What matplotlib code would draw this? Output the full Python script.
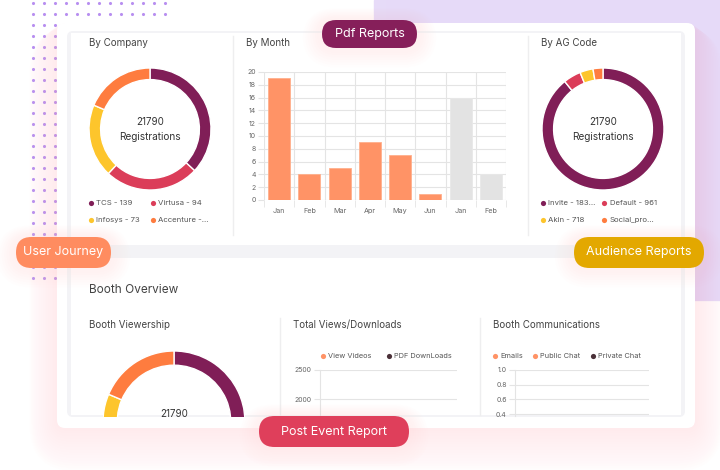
import matplotlib
matplotlib.use("Agg")
import matplotlib.pyplot as plt
import numpy as np
from matplotlib.patches import FancyBboxPatch, Rectangle

plt.rcParams['font.family'] = ['Inter', 'DejaVu Sans']

# ---------------- data ----------------
company_labels = ["TCS - 139", "Virtusa - 94", "Infosys - 73", "Accenture -..."]
company_values = [139, 94, 73, 70]

month_labels = ["Jan", "Feb", "Mar", "Apr", "May", "Jun", "Jan", "Feb"]
month_values = [19, 4, 5, 9, 7, 1, 16, 4]
month_is_past = [False, False, False, False, False, False, True, True]

ag_labels = ["Invite - 183...", "Default - 961", "Akin - 718", "Social_pro..."]
ag_values = [18350, 961, 718, 540]

viewer_values = [139, 94, 73, 70]

views_legend = ["View Videos", "PDF DownLoads"]
views_ticks = [2000, 2500]
comm_legend = ["Emails", "Public Chat", "Private Chat"]
comm_ticks = [0.4, 0.6, 0.8, 1.0]

center_total = "21790"
center_label = "Registrations"

buttons = ["Pdf Reports", "User Journey", "Audience Reports", "Post Event Report"]

# ---------------- style ----------------
PURPLE = "#801e57"
RED = "#db3d59"
YELLOW = "#fdc52c"
ORANGE = "#fe7c3f"
donut_colors = [PURPLE, RED, YELLOW, ORANGE]
BAR = "#ff9366"
BAR_PAST = "#e3e3e3"
TXT = "#444444"
GRID = "#e4e4e4"

W, H = 720, 470
fig = plt.figure(figsize=(7.2, 4.7), dpi=100)
fig.patch.set_facecolor("white")


def px_axes(x0, y0, w, h, z=1):
    ax = fig.add_axes([x0 / W, 1 - (y0 + h) / H, w / W, h / H])
    ax.set_zorder(z)
    return ax


# background layer
bg = px_axes(0, 0, W, H, z=0)
bg.set_xlim(0, W)
bg.set_ylim(H, 0)
bg.axis("off")

# lavender block (with soft gradient)
bg.add_patch(Rectangle((374, 0), 346, 300, color="#e6daf8", zorder=0))
for i in range(12):
    bg.add_patch(Rectangle((374 + i * 2, 0), 2, 300, color="white", alpha=0.05 * (12 - i) / 12, lw=0, zorder=0.1))

# dot grid
dx = np.arange(33, 166, 11)
dy = np.arange(3, 280, 11)
gx, gy = np.meshgrid(dx, dy)
bg.scatter(gx.ravel(), gy.ravel(), s=5, color="#b88ff0", lw=0, zorder=1)

# card glow (subtle)
for i in range(16):
    pad = 2 + i * 2.5
    bg.add_patch(FancyBboxPatch((57 - pad * 0.7, 23 + pad * 0.1), 638 + pad * 1.4, 405 + pad * 1.0,
                                boxstyle="round,pad=0,rounding_size=%f" % (8 + pad),
                                fc="#ffc4c8", ec="none", alpha=0.018, zorder=2))
# card
bg.add_patch(FancyBboxPatch((57, 23), 638, 405, boxstyle="round,pad=0,rounding_size=8",
                            fc="white", ec="none", zorder=3))
# inner frame
bg.add_patch(FancyBboxPatch((67, 31), 618, 386, boxstyle="round,pad=0,rounding_size=6",
                            fc="#f3f3f6", ec="none", zorder=3.1))
bg.add_patch(Rectangle((71, 33), 610, 212, fc="white", ec="none", zorder=3.2))
bg.add_patch(Rectangle((71, 258), 610, 157, fc="white", ec="none", zorder=3.2))

# dividers
for xv, y0, y1 in [(233, 36, 235), (528, 36, 235), (280, 318, 415), (480, 318, 415)]:
    bg.plot([xv, xv], [y0, y1], color="#eeeeef", lw=1, zorder=3.3)

# titles
for (tx, ty, s, fs) in [(89, 43, "By Company", 7), (246, 43, "By Month", 7), (541, 43, "By AG Code", 7),
                         (89, 290, "Booth Overview", 8.5), (89, 325, "Booth Viewership", 7),
                         (293, 325, "Total Views/Downloads", 7), (493, 325, "Booth Communications", 7)]:
    bg.text(tx, ty, s, fontsize=fs, color=TXT, va="center", ha="left", zorder=4)


def legend_items(ax_, items, colors, xs, ys, fs=5.6):
    for lab, col, x, y in zip(items, colors, xs, ys):
        ax_.scatter([x], [y], s=14, color=col, lw=0, zorder=5)
        ax_.text(x + 5.5, y, lab, fontsize=fs, color="#555555", va="center", ha="left", zorder=5)


legend_items(bg, company_labels, donut_colors, [91, 153, 91, 153], [203, 203, 220, 220])
legend_items(bg, ag_labels, donut_colors, [543, 604, 543, 604], [203, 203, 220, 220])
legend_items(bg, views_legend, [BAR, "#4a3038"], [323, 389], [356, 356], fs=5.3)
legend_items(bg, comm_legend, [BAR, BAR, "#4a3038"], [495, 535, 593], [356, 356, 356], fs=5.3)


# ---------------- donuts ----------------
def donut(cx, cy, r, values, width):
    ax = px_axes(cx - r, cy - r, 2 * r, 2 * r, z=2)
    ax.pie(values, colors=donut_colors, startangle=90, counterclock=False, radius=1,
           wedgeprops=dict(width=width, edgecolor="white", linewidth=1.0))
    ax.set_xlim(-1, 1)
    ax.set_ylim(-1, 1)
    ax.axis("off")
    ax.text(0, 0.12, center_total, ha="center", va="center", fontsize=7, color="#333333")
    ax.text(0, -0.13, center_label, ha="center", va="center", fontsize=7.2, color="#333333")
    return ax


donut(150, 129, 61, company_values, 0.19)
donut(603, 129, 61, ag_values, 0.19)

# booth viewership (clipped top part)
cx, cy, r = 174, 422, 71
axv = px_axes(cx - r, 351, 2 * r, 66, z=2)
wedges, _ = axv.pie(viewer_values, colors=donut_colors, startangle=90, counterclock=False, radius=1,
                    wedgeprops=dict(width=0.2, edgecolor="white", linewidth=1.0))
for wdg in wedges:
    wdg.set_clip_on(True)
    wdg.set_clip_path(axv.patch)
axv.set_aspect("auto")
axv.set_xlim(-1, 1)
axv.set_ylim(1 - 66 / r, 1)
axv.axis("off")
axv.text(0, (cy - 414) / r, center_total, ha="center", va="center", fontsize=7, color="#333333",
         clip_on=True)

# ---------------- bar chart ----------------
axb = px_axes(264, 72, 242, 128, z=2)
xpos = np.arange(len(month_values))
cols = [BAR_PAST if p else BAR for p in month_is_past]
axb.bar(xpos, month_values, width=0.72, color=cols,
        edgecolor=[("#ffb08c" if not p else "#e8e8e8") for p in month_is_past],
        linewidth=0.6, zorder=3)
axb.set_xlim(-0.5, len(month_values) - 0.5)
axb.set_ylim(0, 20)
axb.set_yticks(np.arange(0, 21, 2))
axb.set_xticks(xpos)
axb.set_xticklabels(month_labels)
axb.set_xticks(np.arange(-0.5, len(month_values), 1), minor=True)
axb.grid(True, which="major", axis="y", color=GRID, lw=0.8, zorder=0)
axb.grid(True, which="minor", axis="x", color=GRID, lw=0.8, zorder=0)
axb.tick_params(axis="x", which="major", length=0, labelsize=5.2, labelcolor="#666666", pad=6)
axb.tick_params(axis="x", which="minor", length=5, color=GRID)
axb.tick_params(axis="y", length=4, color=GRID, labelsize=5, labelcolor="#666666", pad=2)
for s in axb.spines.values():
    s.set_visible(False)
axb.set_facecolor("none")


# ---------------- empty bottom charts ----------------
def empty_axes(x0, x1, ytop, ybot, vtop, px_per_unit, ticks, fmt):
    ax = px_axes(x0, ytop, x1 - x0, ybot - ytop, z=2)
    ax.set_xlim(0, 1)
    ax.set_ylim(vtop - (ybot - ytop) / px_per_unit, vtop)
    ax.set_yticks(ticks)
    ax.set_yticklabels([fmt(t) for t in ticks])
    ax.set_xticks([])
    ax.grid(True, axis="y", color=GRID, lw=0.8)
    ax.tick_params(axis="y", length=4, color=GRID, labelsize=5, labelcolor="#666666", pad=2)
    for k, s in ax.spines.items():
        s.set_visible(k == "left")
    ax.spines["left"].set_color(GRID)
    ax.set_facecolor("none")
    return ax


empty_axes(320, 457, 370, 416, 2500, 58 / 1000, views_ticks, lambda t: "%d" % t)
empty_axes(515, 649, 370, 416, 1.0, 73.5, comm_ticks, lambda t: "%.1f" % t)

# ---------------- buttons overlay ----------------
ov = px_axes(0, 0, W, H, z=5)
ov.set_xlim(0, W)
ov.set_ylim(H, 0)
ov.axis("off")
ov.patch.set_alpha(0)

btn_specs = [(322, 20, 95, 28, "#861f5a"), (16, 237, 95, 31, "#ff8c60"),
             (574, 237, 130, 31, "#e3a800"), (259, 416, 150, 31, "#df3f5b")]
for (x, y, w, h, c), label in zip(btn_specs, buttons):
    for i in range(8):
        pad = 2 + i * 2.5
        ov.add_patch(FancyBboxPatch((x - pad, y - pad * 0.6), w + 2 * pad, h + pad * 1.6,
                                    boxstyle="round,pad=0,rounding_size=%f" % (h / 2 + pad),
                                    fc="#ffc9c9", ec="none", alpha=0.025))
    ov.add_patch(FancyBboxPatch((x, y), w, h, boxstyle="round,pad=0,rounding_size=%f" % (h / 2),
                                fc=c, ec="none"))
    ov.text(x + w / 2, y + h / 2, label, ha="center", va="center", color="white", fontsize=9)

fig.savefig("out.png", dpi=100, facecolor="white")
